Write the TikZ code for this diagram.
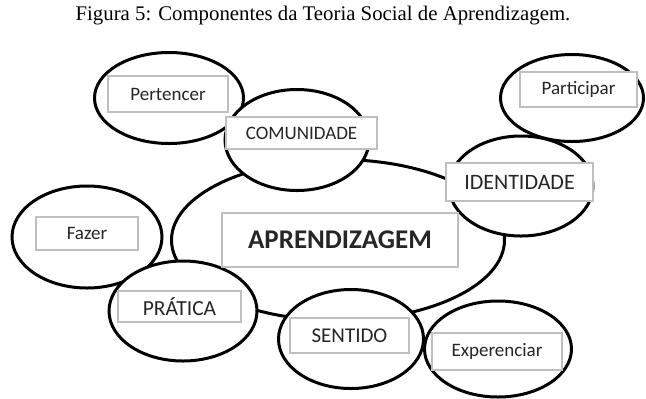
\documentclass[tikz,border=0pt]{standalone}
\usepackage{fontspec}
\setmainfont{Liberation Serif}
\newfontfamily\tagfont{Carlito}
\usetikzlibrary{shapes.geometric}
\definecolor{tagline}{gray}{0.75}

\begin{document}
\begin{tikzpicture}[x=1bp,y=-1bp,
        blob/.style={ellipse,draw,fill=white,line width=3bp,inner sep=0pt},
        tag/.style={rectangle,draw=tagline,fill=white,line width=1.3bp,inner sep=0pt,
                    font=\tagfont\fontsize{19bp}{22bp}\selectfont,text=black!85}]
            		\useasboundingbox (0,0) rectangle (646,398);
            		\node (title) at (323,20) [anchor=base,font=\fontsize{20.8bp}{24bp}\selectfont] {Figura 5: Componentes da Teoria Social de Aprendizagem.};

            		% the big one in the middle
            		\node (learn) at (338,240) [blob,minimum width=333bp,minimum height=161bp] {};

            		\node (belong) at (169,98) [blob,minimum width=149bp,minimum height=91bp] {};
            		\node (comm) at (297,140) [blob,minimum width=144bp,minimum height=101bp] {};
            		\node (part) at (572,98) [blob,minimum width=143bp,minimum height=87bp] {};
            		\node (ident) at (521,186) [blob,minimum width=144bp,minimum height=100bp] {};
            		\node (do) at (87,237) [blob,minimum width=150bp,minimum height=102bp] {};
            		\node (prac) at (183,311) [blob,minimum width=148bp,minimum height=100bp] {};
            		\node (mean) at (351,339) [blob,minimum width=145bp,minimum height=99bp] {};
            		\node (exp) at (498,349) [blob,minimum width=147bp,minimum height=96bp] {};

            		% labels
            		\node (learnT) at (340,240) [tag,minimum width=236bp,minimum height=54bp,
            		      font=\tagfont\bfseries\fontsize{27bp}{30bp}\selectfont] {APRENDIZAGEM};
            		\node (belongT) at (168,94) [tag,minimum width=120bp,minimum height=36bp] {Pertencer};
            		\node (commT) at (301.5,133) [tag,minimum width=151bp,minimum height=32bp] {COMUNIDADE};
            		\node (partT) at (578.5,89.5) [tag,minimum width=117bp,minimum height=35bp] {Participar};
            		\node (identT) at (519.5,182) [tag,minimum width=147bp,minimum height=38bp,
            		      font=\tagfont\fontsize{22bp}{25bp}\selectfont] {IDENTIDADE};
            		\node (doT) at (87,233.5) [tag,minimum width=102bp,minimum height=33bp] {Fazer};
            		\node (pracT) at (179.5,306.5) [tag,minimum width=123bp,minimum height=31bp,
            		      font=\tagfont\fontsize{21.5bp}{24bp}\selectfont] {PRÁTICA};
            		\node (meanT) at (349.5,335.5) [tag,minimum width=119bp,minimum height=35bp,
            		      font=\tagfont\fontsize{21bp}{24bp}\selectfont] {SENTIDO};
            		\node (expT) at (497,351.5) [tag,minimum width=130bp,minimum height=37bp] {Experenciar};
        		\end{tikzpicture}
\end{document}
